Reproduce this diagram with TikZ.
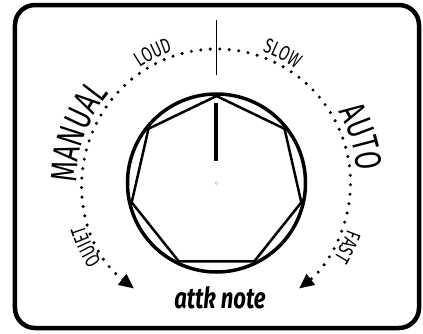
\documentclass[tikz,border=0pt]{standalone}
\usepackage{fontspec}
\setmainfont{Fira Sans}
\newfontfamily\dialfont[FakeStretch=0.7]{Fira Sans}
\newfontfamily\notefont[FakeStretch=0.76]{Fira Sans}
\usetikzlibrary{shapes.geometric,decorations.text,arrows.meta}

\begin{document}
\begin{tikzpicture}[
    x=1pt, y=1pt,
    frame/.style={draw=black, line width=4.5pt, rounded corners=20pt},
    dial dots/.style={line width=3.4pt, line cap=round, dash pattern=on 0pt off 9.5pt,
        {Triangle[length=15pt,width=13pt]}-{Triangle[length=15pt,width=13pt]}},
    knob rim/.style={circle, draw=black, line width=3.5pt, minimum size=178pt, inner sep=0pt, outer sep=0pt},
    knob body/.style={regular polygon, regular polygon sides=7, draw=black, line width=2.5pt, minimum size=174pt, inner sep=0pt, outer sep=0pt},
    big label/.style={decorate, decoration={text along path, text align=center,
        text={|\dialfont\fontsize{37}{37}\selectfont|#1}}},
    small label/.style={decorate, decoration={text along path, text align=center,
        text={|\dialfont\fontsize{21}{21}\selectfont|#1}}},
    caption/.style={font=\notefont\bfseries\itshape\fontsize{29}{29}\selectfont, anchor=base, inner sep=0pt}
]
\useasboundingbox (-216.5,-150) rectangle (206.5,183);

% frame
\draw[frame] (-201.5,-145) rectangle (202.5,178);

% dotted scale, arrows at both ends
\draw[dial dots] (232:134) arc[start angle=232, end angle=-52, radius=134];

% zero mark
\coordinate (tickin)  at (90:108);
\coordinate (tickout) at (90:163);
\draw[line width=1.8pt] (tickin) -- (tickout);

% scale labels
\path[big label=MANUAL]  (190:140) arc[start angle=190, end angle=130, radius=140];
\path[big label=AUTO]    (50:141)  arc[start angle=50,  end angle=-15, radius=141];
\path[small label=LOUD]  (136:139) arc[start angle=136, end angle=96,  radius=139];
\path[small label=SLOW]  (83:139)  arc[start angle=83,  end angle=43,  radius=139];
\path[small label=QUIET] (226:139) arc[start angle=226, end angle=186, radius=139];
\path[small label=FAST]  (-6:139)  arc[start angle=-6,  end angle=-46, radius=139];

% knob
\node[knob rim]  (rim)  at (0,0) {};
\node[knob body] (knob) at (0,0) {};
\coordinate (ptrin)  at (90:22);
\coordinate (ptrout) at (90:80);
\draw[line width=4pt] (ptrin) -- (ptrout);
\draw[gray!50, line width=0.4pt] (0,0) circle (1.5);

\node[caption] (name) at (3.5,-125) {attk note};

\end{tikzpicture}
\end{document}
